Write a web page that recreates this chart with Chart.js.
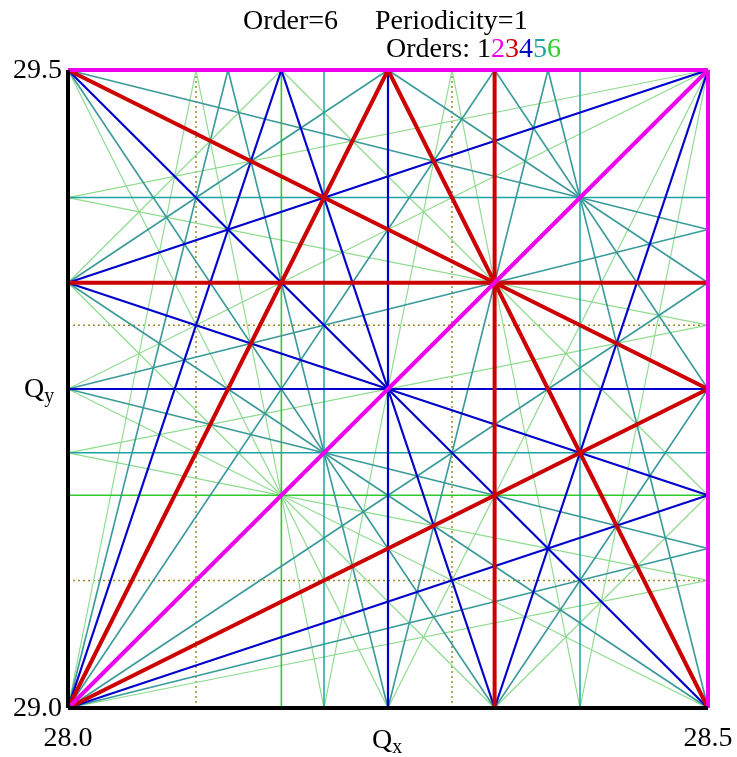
<!DOCTYPE html>
<html>
<head>
<meta charset="utf-8">
<script src="https://cdn.jsdelivr.net/npm/chart.js@4.4.1/dist/chart.umd.min.js"></script>
<style>
  html, body { margin: 0; padding: 0; background: #ffffff; }
  #wrap { width: 737px; height: 757px; position: relative; }
</style>
</head>
<body>
<div id="wrap"><canvas id="tune" width="737" height="757"></canvas></div>
<script>
// Tune window
const qxRange = [28.0, 28.5];
const qyRange = [29.0, 29.5];
const xTickLabels = ['28.0', '28.5'];
const yTickLabels = ['29.0', '29.5'];
const maxOrder = 6;
const periodicity = 1;
const orderDigits = ['1', '2', '3', '4', '5', '6'];

// Resonance lines m*Qx + n*Qy = p, as segments [Qx1, Qy1, Qx2, Qy2] across the window
const order1 = [
  [28, 29, 28.5, 29],            // Qy = 29
  [28, 29, 28, 29.5]             // Qx = 28
];
const order2 = [
  [28.5, 29, 28.5, 29.5],        // 2Qx = 57
  [28, 29.5, 28.5, 29.5],        // 2Qy = 59
  [28, 29, 28.5, 29.5]           // Qx - Qy = -1
];
const order3 = [
  [28.3333, 29, 28.3333, 29.5],  // 3Qx = 85
  [28, 29.3333, 28.5, 29.3333],  // 3Qy = 88
  [28.25, 29.5, 28.5, 29],       // 2Qx + Qy = 86
  [28, 29, 28.25, 29.5],         // 2Qx - Qy = 27
  [28, 29.5, 28.5, 29.25],       // Qx + 2Qy = 87
  [28, 29, 28.5, 29.25]          // Qx - 2Qy = -30
];
const order4 = [
  [28.25, 29, 28.25, 29.5],      // 4Qx = 113
  [28, 29.25, 28.5, 29.25],      // 4Qy = 117
  [28, 29.5, 28.5, 29],          // 2Qx + 2Qy = 115
  [28.1667, 29.5, 28.3333, 29],  // 3Qx + Qy = 114
  [28, 29, 28.1667, 29.5],       // 3Qx - Qy = 55
  [28.3333, 29, 28.5, 29.5],     // 3Qx - Qy = 56
  [28, 29.3333, 28.5, 29.1667],  // Qx + 3Qy = 116
  [28, 29.3333, 28.5, 29.5],     // Qx - 3Qy = -60
  [28, 29, 28.5, 29.1667]        // Qx - 3Qy = -59
];
const order5 = [
  [28.2, 29, 28.2, 29.5],        // 5Qx = 141
  [28.4, 29, 28.4, 29.5],        // 5Qx = 142
  [28, 29.2, 28.5, 29.2],        // 5Qy = 146
  [28, 29.4, 28.5, 29.4],        // 5Qy = 147
  [28.125, 29.5, 28.25, 29],     // 4Qx + Qy = 142
  [28.375, 29.5, 28.5, 29],      // 4Qx + Qy = 143
  [28, 29, 28.125, 29.5],        // 4Qx - Qy = 83
  [28.25, 29, 28.375, 29.5],     // 4Qx - Qy = 84
  [28, 29.25, 28.5, 29.125],     // Qx + 4Qy = 145
  [28, 29.5, 28.5, 29.375],      // Qx + 4Qy = 146
  [28, 29.25, 28.5, 29.375],     // Qx - 4Qy = -89
  [28, 29, 28.5, 29.125],        // Qx - 4Qy = -88
  [28, 29.5, 28.3333, 29],       // 3Qx + 2Qy = 143
  [28.3333, 29.5, 28.5, 29.25],  // 3Qx + 2Qy = 144
  [28, 29, 28.3333, 29.5],       // 3Qx - 2Qy = 26
  [28.3333, 29, 28.5, 29.25],    // 3Qx - 2Qy = 27
  [28, 29.3333, 28.5, 29],       // 2Qx + 3Qy = 144
  [28.25, 29.5, 28.5, 29.3333],  // 2Qx + 3Qy = 145
  [28, 29.3333, 28.25, 29.5],    // 2Qx - 3Qy = -32
  [28, 29, 28.5, 29.3333]        // 2Qx - 3Qy = -31
];
const order6 = [
  [28.1667, 29, 28.1667, 29.5],  // 6Qx = 169
  [28, 29.1667, 28.5, 29.1667],  // 6Qy = 175
  [28.1, 29.5, 28.2, 29],        // 5Qx + Qy = 170
  [28.3, 29.5, 28.4, 29],        // 5Qx + Qy = 171
  [28, 29, 28.1, 29.5],          // 5Qx - Qy = 111
  [28.2, 29, 28.3, 29.5],        // 5Qx - Qy = 112
  [28.4, 29, 28.5, 29.5],        // 5Qx - Qy = 113
  [28, 29.2, 28.5, 29.1],        // Qx + 5Qy = 174
  [28, 29.4, 28.5, 29.3],        // Qx + 5Qy = 175
  [28, 29.4, 28.5, 29.5],        // Qx - 5Qy = -119
  [28, 29.2, 28.5, 29.3],        // Qx - 5Qy = -118
  [28, 29, 28.5, 29.1],          // Qx - 5Qy = -117
  [28, 29.5, 28.25, 29],         // 4Qx + 2Qy = 171
  [28.25, 29, 28.5, 29.5],       // 4Qx - 2Qy = 55
  [28, 29.25, 28.5, 29],         // 2Qx + 4Qy = 173
  [28, 29.25, 28.5, 29.5],       // 2Qx - 4Qy = -61
  [28, 29.3333, 28.3333, 29],    // 3Qx + 3Qy = 172
  [28.1667, 29.5, 28.5, 29.1667],// 3Qx + 3Qy = 173
  [28, 29.3333, 28.1667, 29.5],  // 3Qx - 3Qy = -4
  [28.3333, 29, 28.5, 29.1667]   // 3Qx - 3Qy = -2
];
// Dotted reference lines
const dottedLines = [
  [28.1, 29, 28.1, 29.5],
  [28.3, 29, 28.3, 29.5],
  [28, 29.1, 28.5, 29.1],
  [28, 29.3, 28.5, 29.3]
];

// Styling per order: [colour for sloped lines, colour for straight lines, width sloped, width straight]
const orderStyle = {
  1: ['#000000', '#000000', 4, 4],
  2: ['#ee00ee', '#ee00ee', 4, 4],
  3: ['#cc0000', '#cc0000', 4, 4],
  4: ['#0000cc', '#0000cc', 2.2, 2.2],
  5: ['#3a9999', '#1aa3a3', 1.6, 1.5],
  6: ['#8fdc8f', '#2ecc2e', 1.2, 1.6]
};
const orderColours = ['#000000', '#ee00ee', '#cc0000', '#0000cc', '#1aa3a3', '#2ecc2e'];

const linesByOrder = [order1, order2, order3, order4, order5, order6];

function segmentDataset(seg, colour, width, drawOrder, dash) {
  return {
    type: 'line',
    data: [{ x: seg[0], y: seg[1] }, { x: seg[2], y: seg[3] }],
    borderColor: colour,
    borderWidth: width,
    borderDash: dash || [],
    borderCapStyle: 'butt',
    pointRadius: 0,
    pointHoverRadius: 0,
    showLine: true,
    fill: false,
    tension: 0,
    clip: false,
    order: drawOrder
  };
}

const datasets = [];
linesByOrder.forEach((segs, i) => {
  const k = i + 1;
  const st = orderStyle[k];
  segs.forEach(seg => {
    const straight = (seg[0] === seg[2]) || (seg[1] === seg[3]);
    datasets.push(segmentDataset(seg, straight ? st[1] : st[0], straight ? st[3] : st[2], k));
  });
});
dottedLines.forEach(seg => datasets.push(segmentDataset(seg, '#9a8a2a', 1.5, 10, [2, 3])));

const SERIF = '"Liberation Serif", "Times New Roman", serif';

// Titles, tick labels and axis names
const textPlugin = {
  id: 'tuneText',
  afterDraw(chart) {
    const ctx = chart.ctx;
    const xs = chart.scales.x, ys = chart.scales.y;
    ctx.save();
    ctx.fillStyle = '#000';
    ctx.textBaseline = 'alphabetic';
    ctx.font = '28px ' + SERIF;

    // header line 1
    ctx.textAlign = 'left';
    ctx.fillText('Order=' + maxOrder, 243, 29);
    ctx.fillText('Periodicity=' + periodicity, 375, 29);

    // header line 2 with coloured order digits
    let x = 386;
    const y2 = 57;
    ctx.fillStyle = '#000';
    ctx.fillText('Orders: ', x, y2);
    x += ctx.measureText('Orders: ').width;
    orderDigits.forEach((d, i) => {
      ctx.fillStyle = orderColours[i];
      ctx.fillText(d, x, y2);
      x += ctx.measureText(d).width;
    });

    // tick labels
    ctx.fillStyle = '#000';
    ctx.textAlign = 'center';
    xTickLabels.forEach((t, i) => {
      ctx.fillText(t, xs.getPixelForValue(qxRange[i]), 746);
    });
    ctx.textAlign = 'right';
    ctx.textBaseline = 'middle';
    yTickLabels.forEach((t, i) => {
      ctx.fillText(t, 62, ys.getPixelForValue(qyRange[i]) + 1);
    });

    // axis names with subscripts
    ctx.textBaseline = 'alphabetic';
    ctx.textAlign = 'left';
    const qw = ctx.measureText('Q').width;
    const xMid = xs.getPixelForValue((qxRange[0] + qxRange[1]) / 2);
    ctx.font = '28px ' + SERIF;
    ctx.fillText('Q', xMid - 16, 748);
    ctx.font = '20px ' + SERIF;
    ctx.fillText('x', xMid - 16 + qw, 753);

    const yMid = ys.getPixelForValue((qyRange[0] + qyRange[1]) / 2);
    ctx.font = '28px ' + SERIF;
    ctx.fillText('Q', 24, yMid + 8);
    ctx.font = '20px ' + SERIF;
    ctx.fillText('y', 24 + qw, yMid + 13);
    ctx.restore();
  }
};

new Chart(document.getElementById('tune'), {
  type: 'scatter',
  data: { datasets },
  options: {
    responsive: false,
    animation: false,
    events: [],
    layout: { padding: { left: 68, right: 29, top: 70, bottom: 49 } },
    scales: {
      x: { type: 'linear', min: qxRange[0], max: qxRange[1], display: false },
      y: { type: 'linear', min: qyRange[0], max: qyRange[1], display: false }
    },
    plugins: {
      legend: { display: false },
      tooltip: { enabled: false },
      title: { display: false }
    }
  },
  plugins: [textPlugin]
});
</script>
</body>
</html>
